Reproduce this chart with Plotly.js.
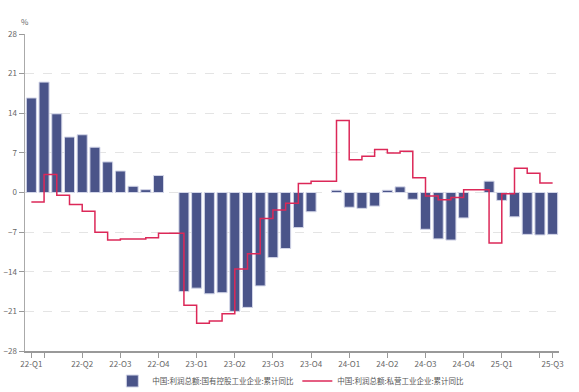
<!DOCTYPE html>
<html>
<head>
<meta charset="utf-8">
<script src="https://cdn.plot.ly/plotly-3.0.1.min.js"></script>
<style>html,body{margin:0;padding:0;background:#fff;}#chart{width:579px;height:392px;}</style>
</head>
<body>
<div id="chart"></div>
<script>
// month slots (Jan of each year has no data: Jan-Feb reported together)
var months = [
  '2022-02','2022-03','2022-04','2022-05','2022-06','2022-07','2022-08','2022-09','2022-10','2022-11','2022-12',
  '2023-01','2023-02','2023-03','2023-04','2023-05','2023-06','2023-07','2023-08','2023-09','2023-10','2023-11','2023-12',
  '2024-01','2024-02','2024-03','2024-04','2024-05','2024-06','2024-07','2024-08','2024-09','2024-10','2024-11','2024-12',
  '2025-01','2025-02','2025-03','2025-04','2025-05','2025-06','2025-07'
];
var soeProfit = [
  16.7, 19.5, 13.9, 9.8, 10.2, 8.0, 5.4, 3.8, 1.1, 0.5, 3.0,
  null, -17.5, -16.9, -17.9, -17.7, -21.0, -20.3, -16.5, -11.5, -9.9, -6.2, -3.4,
  null, 0.4, -2.6, -2.8, -2.4, 0.4, 1.0, -1.2, -6.5, -8.2, -8.4, -4.5,
  null, 2.0, -1.4, -4.3, -7.4, -7.5, -7.4
];
var privateProfit = [
  -1.7, 3.2, -0.5, -2.1, -3.3, -7.0, -8.4, -8.2, -8.2, -8.0, -7.2,
  null, -19.9, -23.1, -22.7, -21.4, -13.5, -10.8, -4.6, -3.1, -1.9, 1.6, 2.0,
  null, 12.7, 5.8, 6.4, 7.6, 7.0, 7.3, 2.6, -0.6, -1.3, -0.9, 0.5,
  null, -8.9, -0.2, 4.3, 3.4, 1.7, 1.7
];
var tickMonths = ['2022-02','2022-03','2022-06','2022-09','2022-12','2023-03','2023-06','2023-09','2023-12','2024-03','2024-06','2024-09','2024-12','2025-03','2025-06','2025-07'];
var tickLabels = ['22-Q1','','22-Q2','22-Q3','22-Q4','23-Q1','23-Q2','23-Q3','23-Q4','24-Q1','24-Q2','24-Q3','24-Q4','25-Q1','','25-Q3'];
var seriesNames = ['中国:利润总额:国有控股工业企业:累计同比','中国:利润总额:私营工业企业:累计同比'];

var font = '"Noto Sans CJK SC", "Noto Sans", sans-serif';
var traces = [
  {
    type: 'bar', x: months, y: soeProfit, name: seriesNames[0],
    marker: {color: '#4a5489', line: {color: '#d3d6e8', width: 1}},
    hoverinfo: 'x+y'
  },
  {
    type: 'scatter', mode: 'lines', x: months, y: privateProfit, name: seriesNames[1],
    line: {color: '#dc2858', width: 1.5, shape: 'hv'},
    connectgaps: true
  }
];
var layout = {
  width: 579, height: 392,
  margin: {l: 25, r: 20, t: 34, b: 41},
  paper_bgcolor: '#fff', plot_bgcolor: '#fff',
  font: {family: font, size: 8, color: '#666'},
  bargap: 0.21,
  showlegend: true,
  legend: {
    orientation: 'h', x: 0.51, xanchor: 'center', yref: 'container', y: 0.028, yanchor: 'middle',
    font: {family: font, size: 7.5, color: '#555'}, itemwidth: 30, tracegroupgap: 0,
    entrywidth: 140, entrywidthmode: 'pixels'
  },
  xaxis: {
    type: 'category', categoryorder: 'array', categoryarray: months,
    range: [-0.5, 41.5],
    tickmode: 'array', tickvals: tickMonths, ticktext: tickLabels,
    ticks: 'outside', ticklen: 5, tickcolor: '#999', tickwidth: 1,
    showline: true, linecolor: '#999', linewidth: 1.5,
    showgrid: false, zeroline: false,
    tickfont: {family: font, size: 8, color: '#666'}
  },
  yaxis: {
    range: [-28, 28], tick0: 0, dtick: 7,
    ticks: 'outside', ticklen: 5, tickcolor: '#999',
    showline: true, linecolor: '#aaa', linewidth: 1.5,
    showgrid: true, gridcolor: '#e4e4e4', griddash: 'dash', gridwidth: 1,
    zeroline: false,
    tickfont: {family: font, size: 8, color: '#666'}
  },
  annotations: [{
    text: '%', xref: 'paper', yref: 'paper', x: 0, y: 1, yshift: 20, xanchor: 'center',
    showarrow: false, font: {family: font, size: 8, color: '#666'}
  }]
};
Plotly.newPlot('chart', traces, layout, {displayModeBar: false, staticPlot: true});
</script>
</body>
</html>
